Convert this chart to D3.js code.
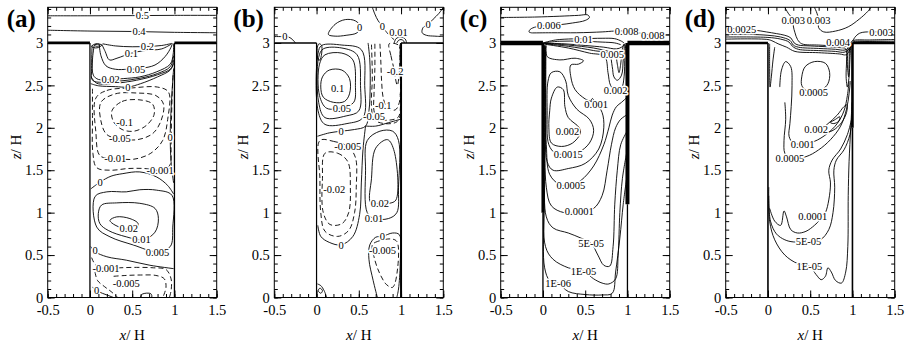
<!DOCTYPE html>
<html>
<head>
<meta charset="utf-8">
<script src="https://cdn.jsdelivr.net/npm/d3@7"></script>
<style>
  body { margin: 0; background: #fff; font-family: 'Liberation Serif', Tinos, 'Times New Roman', Times, serif; }
  svg { display: block; font-family: 'Liberation Serif', Tinos, 'Times New Roman', Times, serif; }
</style>
</head>
<body>
<svg id="fig" width="905" height="342" font-family="Liberation Serif"></svg>
<script>
// ---- axis ticks ----
const xTicksMajor = [-0.5, 0, 0.5, 1, 1.5];
const zTicksMajor = [0, 0.5, 1, 1.5, 2, 2.5, 3];
const xTicksMinor = d3.range(-5, 16).map(k => k / 10);
const zTicksMinor = d3.range(0, 35).map(k => k / 10);
const panelNames = ["(a)", "(b)", "(c)", "(d)"];

// ---- street-canyon geometry (x/H, z/H) ----
const roofSegments = [[[-0.5, 3], [0, 3]], [[1, 3], [1.5, 3]]];
const wallX = [0, 1];

// ---- (a) contour lines: level v, points [x/H, z/H] ----
const contoursA = [
  {v: 0.5, pts: [[-0.5,3.32],[0,3.32],[0.5,3.322],[1,3.325],[1.5,3.325]]},
  {v: 0.4, pts: [[-0.5,3.15],[0,3.14],[0.5,3.135],[1,3.125],[1.5,3.12]]},
  {v: 0.2, pts: [[0.15,2.99],[0.3,2.965],[0.5,2.955],[0.7,2.96],[0.85,2.97],[0.97,2.995]]},
  {v: 0.1, pts: [[0.14,2.985],[0.18,2.9],[0.23,2.8],[0.32,2.82],[0.49,2.88],[0.65,2.91],[0.85,2.93],[0.96,2.985]]},
  {v: 0.05, pts: [[0.11,2.98],[0.13,2.85],[0.19,2.73],[0.3,2.69],[0.45,2.69],[0.6,2.7],[0.77,2.74],[0.89,2.84],[0.96,2.95],[0.975,2.995]]},
  {v: 0.02, pts: [[0.05,2.97],[0.03,2.8],[0.04,2.62],[0.1,2.57],[0.245,2.57],[0.4,2.58],[0.59,2.6],[0.79,2.66],[0.95,2.75],[0.985,2.87],[0.99,2.99]]},
  {v: 0.01, pts: [[0.025,2.97],[0.02,2.7],[0.03,2.56],[0.15,2.535],[0.35,2.55],[0.6,2.585],[0.8,2.64],[0.95,2.72],[0.99,2.85]]},
  {v: 0.005, pts: [[0.015,2.6],[0.08,2.525],[0.3,2.525],[0.55,2.56],[0.8,2.625],[0.96,2.7],[0.99,2.8]]},
  {v: 0, pts: [[0.01,2.52],[0.1,2.495],[0.3,2.485],[0.45,2.48],[0.6,2.52],[0.8,2.6],[0.95,2.68],[0.99,2.76]]},
  {v: 0, pts: [[0.99,2.7],[0.97,2.4],[0.955,2.1],[0.95,1.89],[0.96,1.6],[0.99,1.35]]},
  {v: 0.1, closed: true, pts: [[0.02,2.96],[0.07,2.99],[0.14,2.975],[0.1,2.945],[0.04,2.945]]},
  {v: 0.2, closed: true, pts: [[0.05,2.975],[0.1,2.985],[0.12,2.97],[0.08,2.96]]},
  {v: -0.001, pts: [[0.03,2.46],[0.03,2.1],[0.035,1.7],[0.08,1.53],[0.25,1.5],[0.45,1.52],[0.65,1.52],[0.83,1.5],[0.94,1.55],[0.96,1.8],[0.965,2.1],[0.975,2.45],[0.985,2.65]]},
  {v: -0.01, closed: true, pts: [[0.07,2.35],[0.2,2.44],[0.5,2.47],[0.8,2.48],[0.93,2.42],[0.92,2.1],[0.86,1.85],[0.72,1.7],[0.52,1.63],[0.3,1.64],[0.12,1.67],[0.07,1.95]]},
  {v: -0.05, closed: true, pts: [[0.13,2.3],[0.3,2.4],[0.55,2.41],[0.78,2.38],[0.87,2.28],[0.84,2.08],[0.74,1.93],[0.56,1.86],[0.355,1.87],[0.2,1.92],[0.13,2.08]]},
  {v: -0.1, closed: true, pts: [[0.26,2.2],[0.38,2.31],[0.58,2.33],[0.74,2.28],[0.76,2.16],[0.67,2.03],[0.52,1.96],[0.38,1.98],[0.28,2.07]]},
  {v: 0, pts: [[0.01,1.28],[0.12,1.36],[0.25,1.43],[0.39,1.46],[0.59,1.48],[0.79,1.42],[0.92,1.32],[0.99,1.22]]},
  {v: 0.005, closed: true, pts: [[0.06,1.19],[0.2,1.245],[0.43,1.245],[0.59,1.27],[0.79,1.265],[0.97,1.205],[0.98,0.83],[0.95,0.6],[0.79,0.54],[0.51,0.62],[0.237,0.715],[0.08,0.83]]},
  {v: 0.01, closed: true, pts: [[0.099,0.99],[0.138,1.09],[0.316,1.115],[0.59,1.11],[0.77,1.05],[0.81,0.93],[0.77,0.77],[0.63,0.68],[0.43,0.715],[0.217,0.79],[0.118,0.87]]},
  {v: 0.02, closed: true, pts: [[0.237,0.91],[0.316,0.95],[0.473,0.93],[0.57,0.87],[0.53,0.8],[0.375,0.82],[0.257,0.88]]},
  {v: 0, pts: [[0.01,0.6],[0.06,0.54],[0.2,0.48],[0.43,0.44],[0.71,0.38],[0.99,0.34]]},
  {v: -0.001, pts: [[0.02,0.47],[0.07,0.38],[0.19,0.34],[0.35,0.35],[0.55,0.355],[0.75,0.35],[0.9,0.33],[0.96,0.22],[0.96,0.08],[0.94,0]]},
  {v: -0.005, pts: [[0.28,0.25],[0.43,0.26],[0.6,0.265],[0.78,0.26],[0.88,0.22],[0.9,0.12],[0.87,0.02]]},
  {v: -0.005, pts: [[0.06,0.3],[0.09,0.2],[0.17,0.13],[0.25,0.07],[0.33,0]]},
  {v: 0, pts: [[0.03,0.12],[0.1,0.07],[0.2,0.03],[0.28,0]]},
  {v: 0, closed: true, pts: [[0.6,0.005],[0.62,0.04],[0.72,0.045],[0.73,0.005]]}
];
const labelsA = [
  {v: 0.5, at: [0.62,3.32]}, {v: 0.4, at: [0.58,3.14]}, {v: 0.2, at: [0.68,2.96]},
  {v: 0.1, at: [0.49,2.88]}, {v: 0.05, at: [0.545,2.69]}, {v: 0.02, at: [0.245,2.57]},
  {v: 0, at: [0.45,2.48]}, {v: -0.1, at: [0.41,2.07]}, {v: -0.05, at: [0.355,1.87]},
  {v: 0, at: [0.95,1.89]}, {v: -0.01, at: [0.3,1.64]}, {v: -0.001, at: [0.83,1.5]},
  {v: 0, at: [0.12,1.36]}, {v: 0.02, at: [0.46,0.815]}, {v: 0.01, at: [0.61,0.685]},
  {v: 0.005, at: [0.8,0.53]}, {v: 0, at: [0.06,0.56]}, {v: -0.001, at: [0.19,0.34]},
  {v: -0.005, at: [0.43,0.17]}, {v: 0, at: [0.08,0.08]}
];

// ---- (b) ----
const contoursB = [
  {v: 0, pts: [[-0.5,3.075],[-0.43,3.075],[-0.33,3.07],[-0.28,3.035],[-0.25,3]]},
  {v: 0, closed: true, pts: [[0.14,3.1],[0.22,3.22],[0.34,3.275],[0.46,3.26],[0.52,3.19],[0.48,3.12],[0.35,3.09],[0.22,3.08]]},
  {v: 0, pts: [[0.66,3.42],[0.69,3.34],[0.73,3.26],[0.78,3.2]]},
  {v: -0.001, pts: [[0.81,3.15],[0.87,3.08],[0.93,3.03]]},
  {v: 0.01, pts: [[0.92,3],[0.94,3.05],[1,3.07],[1.05,3.045],[1.065,3]]},
  {v: 0.02, pts: [[0.95,3],[0.97,3.03],[1,3.04],[1.03,3.025],[1.04,3]]},
  {v: 0, pts: [[1.5,3.42],[1.45,3.35],[1.38,3.28],[1.32,3.22],[1.26,3.18],[1.25,3.12],[1.3,3.09],[1.4,3.08],[1.5,3.075]]},
  {v: 0.05, closed: true, pts: [[0.01,2.95],[0.03,2.99],[0.06,2.97],[0.04,2.8],[0.02,2.8]]},
  {v: 0.1, closed: true, pts: [[0.07,2.6],[0.15,2.68],[0.3,2.68],[0.39,2.58],[0.39,2.4],[0.33,2.31],[0.2,2.3],[0.08,2.36],[0.05,2.48]]},
  {v: 0.05, closed: true, pts: [[0.035,2.75],[0.1,2.86],[0.3,2.88],[0.43,2.8],[0.46,2.5],[0.44,2.3],[0.31,2.24],[0.12,2.23],[0.035,2.38]]},
  {v: 0.02, closed: true, pts: [[0.025,2.83],[0.08,2.93],[0.3,2.94],[0.48,2.86],[0.52,2.5],[0.5,2.2],[0.35,2.14],[0.1,2.12],[0.025,2.3]]},
  {v: 0.01, closed: true, pts: [[0.018,2.88],[0.06,2.97],[0.3,2.975],[0.53,2.92],[0.57,2.5],[0.55,2.12],[0.36,2.05],[0.1,2.04],[0.018,2.2]]},
  {v: 0, pts: [[0.01,1.9],[0.15,1.94],[0.29,1.96],[0.45,1.98],[0.58,2.02],[0.62,2.2],[0.635,2.5],[0.63,2.8],[0.61,3]]},
  {v: 0, pts: [[0.58,2.02],[0.55,1.75],[0.53,1.35],[0.51,0.98],[0.43,0.72],[0.29,0.62],[0.15,0.65],[0.05,0.72],[0.015,0.85]]},
  {v: 0, pts: [[0.58,2.02],[0.7,2.02],[0.85,2.06],[0.99,2.1]]},
  {v: -0.2, closed: true, pts: [[0.86,2.99],[0.88,2.85],[0.91,2.72],[0.93,2.6],[0.955,2.5],[0.975,2.6],[0.985,2.8],[0.975,2.97]]},
  {v: -0.1, pts: [[0.75,2.99],[0.76,2.8],[0.77,2.55],[0.79,2.35],[0.84,2.23],[0.93,2.21],[0.98,2.3],[0.99,2.7],[0.985,2.98]]},
  {v: -0.05, pts: [[0.69,2.99],[0.69,2.7],[0.68,2.4],[0.68,2.2],[0.72,2.11],[0.85,2.09],[0.97,2.13],[0.99,2.4]]},
  {v: -0.02, pts: [[0.65,2.98],[0.66,2.6],[0.65,2.25],[0.68,2.1],[0.8,2.05],[0.95,2.07],[0.99,2.15]]},
  {v: -0.005, closed: true, pts: [[0.04,1.85],[0.2,1.84],[0.37,1.78],[0.46,1.65],[0.47,1.3],[0.45,1],[0.38,0.79],[0.25,0.72],[0.1,0.78],[0.05,1],[0.04,1.4]]},
  {v: -0.02, closed: true, pts: [[0.1,1.7],[0.25,1.7],[0.37,1.6],[0.4,1.3],[0.38,1],[0.3,0.87],[0.16,0.86],[0.08,1],[0.07,1.4]]},
  {v: 0.02, closed: true, pts: [[0.7,1.76],[0.84,1.86],[0.92,1.72],[0.94,1.15],[0.86,1.11],[0.75,1.11],[0.64,1.12],[0.65,1.4]]},
  {v: 0.01, closed: true, pts: [[0.6,1.85],[0.75,1.96],[0.9,1.96],[0.97,1.85],[0.97,1.3],[0.95,1],[0.85,0.93],[0.68,0.93],[0.6,1],[0.58,1.5]]},
  {v: -0.005, closed: true, pts: [[0.66,0.62],[0.72,0.66],[0.88,0.69],[0.95,0.66],[0.96,0.35],[0.9,0.12],[0.83,0.15],[0.74,0.3],[0.68,0.48]]},
  {v: 0, pts: [[0.72,0],[0.67,0.2],[0.62,0.45],[0.63,0.62],[0.7,0.71],[0.78,0.72],[0.9,0.76],[0.98,0.74],[0.99,0.4],[0.97,0.1],[0.95,0]]},
  {v: 0, pts: [[0.01,0.16],[0.05,0.14],[0.09,0.08],[0.12,0]]},
  {v: 0.001, closed: true, pts: [[0.02,0.08],[0.04,0.11],[0.07,0.08],[0.05,0.05]]}
];
const labelsB = [
  {v: 0, at: [-0.375,3.075]}, {v: 0, at: [0.51,3.18]}, {v: 0, at: [0.78,3.2]},
  {v: 0.01, at: [0.97,3.13]}, {v: 0, at: [1.32,3.22]}, {v: -0.2, at: [0.93,2.67]},
  {v: 0.1, at: [0.25,2.47]}, {v: -0.1, at: [0.79,2.27]}, {v: 0.05, at: [0.3,2.235]},
  {v: -0.05, at: [0.68,2.13]}, {v: 0, at: [0.29,1.955]}, {v: -0.005, at: [0.37,1.78]},
  {v: -0.02, at: [0.21,1.27]}, {v: 0.02, at: [0.75,1.11]}, {v: 0.01, at: [0.68,0.93]},
  {v: 0, at: [0.29,0.62]}, {v: 0, at: [0.78,0.72]}, {v: -0.005, at: [0.78,0.56]}
];

// ---- (c) ----
const contoursC = [
  {v: 0.006, pts: [[-0.5,3.3],[-0.1,3.305],[0.2,3.315],[0.42,3.325],[0.53,3.33],[0.55,3.3],[0.5,3.265],[0.35,3.235],[0.2,3.215],[0.07,3.205],[-0.08,3.19],[-0.15,3.16],[-0.165,3.13],[-0.13,3.118]]},
  {v: 0.008, pts: [[-0.13,3.118],[0.1,3.12],[0.4,3.12],[0.7,3.13],[0.85,3.14],[0.99,3.14],[1.1,3.125],[1.2,3.105],[1.3,3.095],[1.5,3.095]]},
  {v: 0.01, pts: [[0,3],[0.15,3.035],[0.35,3.048],[0.48,3.05],[0.7,3.055],[0.85,3.05],[0.93,3.02],[0.96,3]]},
  {v: 0.009, pts: [[0,3],[0.2,3.02],[0.45,3.02],[0.7,3.01],[0.85,3],[0.92,2.98]]},
  {v: 0.007, pts: [[0.01,2.995],[0.25,2.99],[0.5,2.97],[0.72,2.95],[0.87,2.93],[0.93,2.95],[0.97,2.99]]},
  {v: 0.005, pts: [[0.02,2.995],[0.3,2.975],[0.6,2.94],[0.78,2.9],[0.85,2.88],[0.88,2.75],[0.9,2.65],[0.92,2.75],[0.94,2.93],[0.96,2.99]]},
  {v: 0.003, pts: [[0.02,2.99],[0.3,2.96],[0.6,2.91],[0.78,2.87],[0.82,2.72],[0.84,2.6],[0.88,2.56],[0.93,2.62],[0.95,2.8],[0.965,2.98]]},
  {v: 0.002, pts: [[0.02,2.985],[0.3,2.94],[0.55,2.88],[0.73,2.84],[0.77,2.65],[0.8,2.5],[0.86,2.44],[0.93,2.47],[0.96,2.6],[0.97,2.85],[0.98,2.98]]},
  {v: 0.0015, closed: true, pts: [[0.06,2.55],[0.1,2.65],[0.2,2.66],[0.27,2.55],[0.3,2.38],[0.4,2.22],[0.55,2.1],[0.6,1.97],[0.55,1.82],[0.42,1.71],[0.3,1.69],[0.15,1.7],[0.07,1.8],[0.05,2.2]]},
  {v: 0.002, closed: true, pts: [[0.1,2.35],[0.17,2.48],[0.24,2.45],[0.26,2.25],[0.3,2.12],[0.43,2],[0.44,1.93],[0.35,1.82],[0.22,1.78],[0.1,1.82],[0.07,2],[0.08,2.2]]},
  {v: 0.002, closed: true, pts: [[0.57,2.32],[0.585,2.345],[0.6,2.325],[0.585,2.31]]},
  {v: 0.001, pts: [[0.04,2.97],[0.05,2.84],[0.2,2.8],[0.38,2.82],[0.48,2.79],[0.42,2.75],[0.33,2.74],[0.33,2.6],[0.38,2.45],[0.5,2.34],[0.63,2.28],[0.7,2.18],[0.72,2],[0.66,1.75],[0.5,1.58],[0.3,1.52],[0.12,1.5],[0.05,1.6],[0.035,2.2],[0.035,2.9]]},
  {v: 0.0005, pts: [[0.03,2.97],[0.03,2.5],[0.04,1.8],[0.08,1.45],[0.2,1.33],[0.33,1.32],[0.45,1.38],[0.6,1.55],[0.72,1.8],[0.78,2],[0.82,2.15],[0.87,2.25],[0.93,2.3],[0.985,2.35]]},
  {v: 0.0001, pts: [[0.025,2.97],[0.025,2],[0.04,1.3],[0.1,1.08],[0.25,1],[0.43,1.01],[0.6,1.05],[0.7,1.2],[0.76,1.5],[0.81,1.8],[0.86,2],[0.92,2.1],[0.99,2.15]]},
  {v: 5e-5, pts: [[0.02,2.97],[0.02,1.5],[0.04,0.95],[0.12,0.82],[0.3,0.76],[0.45,0.7],[0.57,0.64],[0.65,0.5],[0.72,0.38],[0.79,0.37],[0.83,0.6],[0.85,1.1],[0.88,1.5],[0.92,1.8],[0.99,1.95]]},
  {v: 1e-5, pts: [[0.015,2.97],[0.015,1.2],[0.03,0.6],[0.12,0.45],[0.3,0.35],[0.48,0.31],[0.6,0.22],[0.7,0.17],[0.78,0.16],[0.86,0.22],[0.89,0.5],[0.91,1],[0.94,1.4],[0.99,1.7]]},
  {v: 1e-6, pts: [[0.01,2.97],[0.01,1],[0.02,0.35],[0.08,0.2],[0.18,0.17],[0.3,0.07],[0.5,0.035],[0.7,0.03],[0.82,0.05],[0.86,0.3],[0.91,0.7],[0.95,1.1],[0.99,1.4]]}
];
const labelsC = [
  {v: 0.006, at: [0.07,3.205]}, {v: 0.008, at: [0.99,3.135]}, {v: 0.008, at: [1.3,3.095]},
  {v: 0.01, at: [0.48,3.045]}, {v: 0.005, at: [0.82,2.87]}, {v: 0.002, at: [0.86,2.44]},
  {v: 0.001, at: [0.63,2.28]}, {v: 0.002, at: [0.29,1.96]}, {v: 0.0015, at: [0.3,1.69]},
  {v: 0.0005, at: [0.33,1.32]}, {v: 0.0001, at: [0.43,1.01]}, {v: 5e-5, at: [0.57,0.64]},
  {v: 1e-5, at: [0.48,0.31]}, {v: 1e-6, at: [0.18,0.17]}
];

// ---- (d) ----
const contoursD = [
  {v: 0.0025, pts: [[-0.5,3.18],[-0.31,3.16],[-0.15,3.15],[-0.02,3.13],[0.1,3.11],[0.2,3.09],[0.27,3.06],[0.31,3],[0.36,2.975],[0.5,2.965],[0.7,2.955],[0.85,2.945],[0.92,2.93],[0.93,2.8],[0.925,2.6],[0.94,2.48],[0.96,2.6],[0.97,2.8],[0.98,2.97]]},
  {v: 0.0022, pts: [[-0.5,3.1],[-0.2,3.1],[0,3.09],[0.15,3.07],[0.26,3.03],[0.3,2.975],[0.36,2.95],[0.6,2.935],[0.8,2.925],[0.9,2.915],[0.94,2.93],[0.97,2.98],[1,3.025],[1.2,3.035],[1.5,3.04]]},
  {v: 0.002, pts: [[-0.5,3.07],[0,3.065],[0.15,3.045],[0.25,3.01],[0.29,2.96],[0.36,2.925],[0.6,2.91],[0.8,2.9],[0.9,2.89],[0.95,2.915],[0.98,2.97],[1,3.01],[1.2,3.02],[1.5,3.02]]},
  {v: 0.0018, pts: [[-0.5,3.045],[0,3.04],[0.06,3.02],[0.12,2.99],[0.22,2.95],[0.32,2.9],[0.6,2.885],[0.85,2.87],[0.92,2.86],[0.96,2.9],[0.99,2.98],[1.02,3.005],[1.5,3.005]]},
  {v: 0.003, pts: [[0.2,3.42],[0.24,3.35],[0.3,3.27],[0.3,3.2],[0.32,3.12],[0.35,3.04],[0.4,2.99],[0.6,2.975],[0.8,2.965],[0.93,2.96]]},
  {v: 0.003, pts: [[0.55,3.42],[0.58,3.35],[0.6,3.27],[0.6,3.18],[0.66,3.13],[0.8,3.14],[0.95,3.19],[1.08,3.28],[1.18,3.37],[1.22,3.42]]},
  {v: 0.003, pts: [[1,3.02],[1.04,3.08],[1.1,3.12],[1.34,3.13],[1.5,3.13]]},
  {v: 0.004, pts: [[0.72,3],[0.83,3.01],[0.93,3],[0.97,2.99]]},
  {v: 0.004, pts: [[0.95,2.97],[0.94,2.75],[0.955,2.6],[0.96,2.75],[0.965,2.95]]},
  {v: 0.001, pts: [[0.02,2.99],[0.02,2.7],[0.025,2.48],[0.04,2.6],[0.06,2.8],[0.08,2.95]]},
  {v: 0.0005, closed: true, pts: [[0.4,2.6],[0.44,2.72],[0.55,2.78],[0.68,2.76],[0.73,2.65],[0.71,2.52],[0.64,2.45],[0.54,2.42],[0.45,2.44],[0.4,2.5]]},
  {v: 0.001, pts: [[0.14,2.48],[0.16,2.68],[0.21,2.78],[0.27,2.72],[0.285,2.5],[0.275,2.25],[0.26,2.05],[0.25,1.9],[0.3,1.82],[0.41,1.81],[0.55,1.84],[0.7,1.93],[0.82,2.05],[0.9,2.2],[0.94,2.38],[0.96,2.55]]},
  {v: 0.0005, pts: [[0.2,2.3],[0.21,2.1],[0.19,1.85],[0.2,1.7],[0.26,1.64],[0.45,1.66],[0.6,1.74],[0.74,1.86],[0.86,2.02],[0.93,2.22],[0.96,2.4],[0.975,2.55]]},
  {v: 0.002, closed: true, pts: [[0.6,1.97],[0.7,2.04],[0.82,2.15],[0.9,2.25],[0.935,2.27],[0.93,2.18],[0.87,2.06],[0.77,1.97],[0.66,1.94]]},
  {v: 0.003, closed: true, pts: [[0.74,2.06],[0.8,2.1],[0.85,2.13],[0.84,2.08],[0.78,2.05]]},
  {v: 0.0001, pts: [[0.02,1.05],[0.08,0.9],[0.15,0.85],[0.19,1.02],[0.22,0.95],[0.27,0.8],[0.35,0.76],[0.45,0.78],[0.55,0.85],[0.62,0.92],[0.68,1],[0.72,1.15],[0.74,1.35],[0.72,1.5],[0.76,1.62],[0.86,1.75],[0.94,1.92],[0.99,2.1]]},
  {v: 5e-5, pts: [[0.01,1.2],[0.03,0.9],[0.1,0.75],[0.2,0.68],[0.3,0.655],[0.48,0.66],[0.62,0.68],[0.72,0.8],[0.77,1],[0.79,1.3],[0.78,1.5],[0.81,1.62],[0.9,1.74],[0.97,1.92],[0.995,2.15]]},
  {v: 1e-5, pts: [[0.01,1.3],[0.02,0.9],[0.08,0.68],[0.2,0.5],[0.35,0.4],[0.49,0.37],[0.57,0.27],[0.63,0.21],[0.68,0.25],[0.71,0.35],[0.75,0.3],[0.8,0.2],[0.87,0.17],[0.92,0.3],[0.945,0.6],[0.95,1.2],[0.96,1.6],[0.98,2],[0.995,2.3]]}
];
const labelsD = [
  {v: 0.0025, at: [-0.31,3.16]}, {v: 0.003, at: [0.3,3.27]}, {v: 0.003, at: [0.6,3.27]},
  {v: 0.003, at: [1.34,3.13]}, {v: 0.004, at: [0.83,3.01]}, {v: 0.0005, at: [0.54,2.42]},
  {v: 0.002, at: [0.57,1.98]}, {v: 0.001, at: [0.41,1.81]}, {v: 0.0005, at: [0.26,1.64]},
  {v: 0.0001, at: [0.53,0.96]}, {v: 5e-5, at: [0.48,0.66]}, {v: 1e-5, at: [0.49,0.37]}
];

const contours = [contoursA, contoursB, contoursC, contoursD];
const labels = [labelsA, labelsB, labelsC, labelsD];

// ---- layout ----
const W = 169, H = 290.2, TOP = 7.3;
const lefts = [47.7, 274.3, 500.7, 725.7];
const SERIF = "'Liberation Serif', Tinos, 'Times New Roman', Times, serif";

// roof thickness and wall strokes [z0, z1, width] for each panel
const buildingStyle = [
  {roof: 2.8, walls: [[[0, 3, 1.3]], [[0, 3, 1.3]]]},
  {roof: 1.4, walls: [[[0, 3, 1.2]], [[0, 3, 2]]]},
  {roof: 4.5, walls: [[[0, 1, 1.3], [1, 3, 3]], [[0, 1.1, 1.3], [1.1, 3, 4]]]},
  {roof: 2.4, walls: [[[0, 3, 1.6]], [[0, 2, 1.6], [2, 3, 2.6]]]}
];

const x = d3.scaleLinear().domain([-0.5, 1.5]).range([0, W]);
const z = d3.scaleLinear().domain([0, 3.42]).range([H, 0]);

const lineOpen = d3.line().x(d => x(d[0])).y(d => z(d[1])).curve(d3.curveCatmullRom.alpha(0.5));
const lineClosed = d3.line().x(d => x(d[0])).y(d => z(d[1])).curve(d3.curveCatmullRomClosed.alpha(0.5));

function fmtLevel(v) {
  if (v !== 0 && Math.abs(v) < 1e-4) {
    const [m, e] = v.toExponential().split("e");
    const n = parseInt(e, 10);
    return m + "E" + (n < 0 ? "-" : "+") + String(Math.abs(n)).padStart(2, "0");
  }
  return String(v);
}

const svg = d3.select("#fig").style("font-family", SERIF);

contours.forEach((cs, i) => {
  const g = svg.append("g").attr("transform", `translate(${lefts[i]},${TOP})`);
  const cid = "plotclip" + i;
  g.append("clipPath").attr("id", cid).append("rect").attr("width", W).attr("height", H);
  const plot = g.append("g").attr("clip-path", `url(#${cid})`);

  plot.selectAll("path.contour").data(cs).join("path")
    .attr("class", "contour")
    .attr("d", c => (c.closed ? lineClosed : lineOpen)(c.pts))
    .attr("fill", "none")
    .attr("stroke", "#000")
    .attr("stroke-width", 0.9)
    .attr("stroke-dasharray", c => c.v < 0 ? "5,3" : null);

  // building roofs and walls
  const st = buildingStyle[i];
  const seg = d3.line().x(d => x(d[0])).y(d => z(d[1]));
  plot.selectAll("path.roof").data(roofSegments).join("path")
    .attr("class", "roof").attr("d", seg)
    .attr("stroke", "#000").attr("stroke-width", st.roof).attr("fill", "none");
  wallX.forEach((wx, k) => {
    st.walls[k].forEach(([z0, z1, w]) => {
      plot.append("path").attr("d", seg([[wx, z0], [wx, z1]]))
        .attr("stroke", "#000").attr("stroke-width", w).attr("fill", "none");
    });
  });

  // contour labels
  g.append("g").selectAll("text").data(labels[i]).join("text")
    .attr("x", l => x(l.at[0]))
    .attr("y", l => z(l.at[1]))
    .attr("dy", "0.35em")
    .attr("text-anchor", "middle")
    .attr("font-family", "Liberation Serif")
    .style("font-family", SERIF)
    .style("font-size", "10.5px")
    .attr("stroke", "#fff").attr("stroke-width", 3).attr("stroke-linejoin", "round")
    .attr("paint-order", "stroke")
    .attr("fill", "#000")
    .text(l => fmtLevel(l.v));

  // frame
  g.append("rect").attr("width", W).attr("height", H)
    .attr("fill", "none").attr("stroke", "#000").attr("stroke-width", 1);

  // axes with inward ticks on all sides
  const styleAxis = a => {
    a.attr("font-family", "Liberation Serif").style("font-family", SERIF);
    a.select(".domain").remove();
    a.selectAll("text").attr("font-family", "Liberation Serif")
      .style("font-family", SERIF).style("font-size", "14.5px");
  };
  const fmtTick = d => String(d);

  g.append("g").attr("transform", `translate(0,${H})`)
    .call(d3.axisBottom(x).tickValues(xTicksMinor).tickSize(-3.5).tickFormat("")).call(styleAxis);
  g.append("g").attr("transform", `translate(0,${H})`)
    .call(d3.axisBottom(x).tickValues(xTicksMajor).tickSize(-7).tickPadding(7).tickFormat(fmtTick)).call(styleAxis);
  g.append("g")
    .call(d3.axisTop(x).tickValues(xTicksMinor).tickSize(-3.5).tickFormat("")).call(styleAxis);
  g.append("g")
    .call(d3.axisTop(x).tickValues(xTicksMajor).tickSize(-7).tickFormat("")).call(styleAxis);
  g.append("g")
    .call(d3.axisLeft(z).tickValues(zTicksMinor).tickSize(-3.5).tickFormat("")).call(styleAxis);
  g.append("g")
    .call(d3.axisLeft(z).tickValues(zTicksMajor).tickSize(-7).tickPadding(4.5).tickFormat(fmtTick)).call(styleAxis);
  g.append("g").attr("transform", `translate(${W},0)`)
    .call(d3.axisRight(z).tickValues(zTicksMinor).tickSize(-3.5).tickFormat("")).call(styleAxis);
  g.append("g").attr("transform", `translate(${W},0)`)
    .call(d3.axisRight(z).tickValues(zTicksMajor).tickSize(-7).tickFormat("")).call(styleAxis);

  // axis titles
  const xt = g.append("text").attr("x", W / 2).attr("y", 340 - TOP)
    .attr("text-anchor", "middle")
    .attr("font-family", "Liberation Serif")
    .style("font-family", SERIF).style("font-size", "15px");
  xt.append("tspan").style("font-style", "italic").text("x");
  xt.append("tspan").text("/ H");

  const yt = g.append("text")
    .attr("transform", `translate(-26.5,${147 - TOP}) rotate(-90)`)
    .attr("text-anchor", "middle")
    .attr("font-family", "Liberation Serif")
    .style("font-family", SERIF).style("font-size", "15px");
  yt.append("tspan").style("font-style", "italic").text("z");
  yt.append("tspan").text("/ H");

  // panel tag
  g.append("text").attr("x", -41).attr("y", 27 - TOP)
    .attr("font-family", "Liberation Serif")
    .style("font-family", SERIF).style("font-weight", "bold").style("font-size", "25px")
    .text(panelNames[i]);
});
</script>
</body>
</html>
